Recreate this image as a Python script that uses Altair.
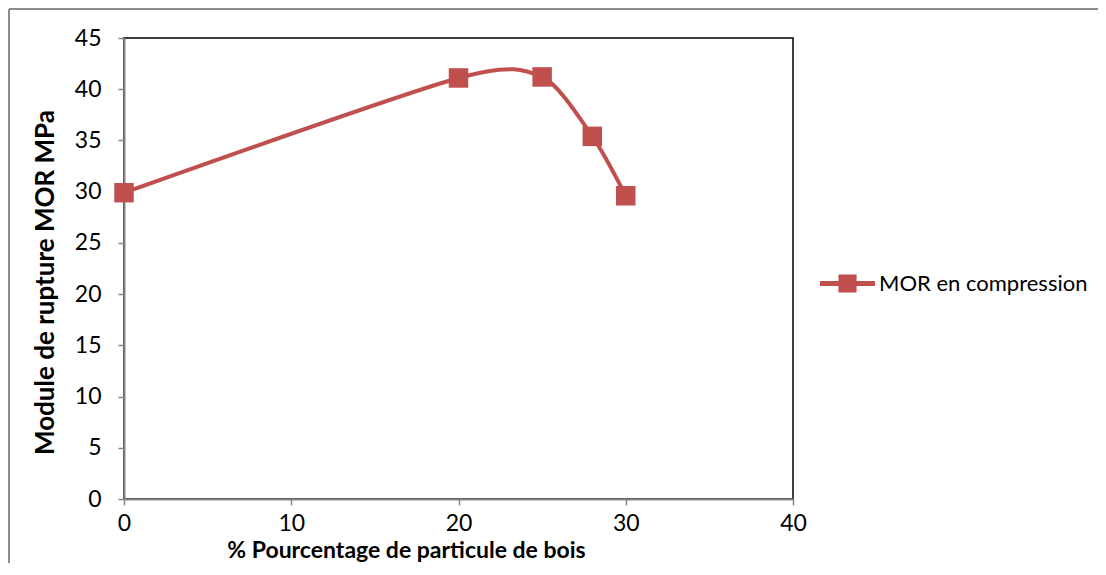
import altair as alt
import pandas as pd

# Data
pourcentage = [0, 20, 25, 28, 30]
mor = [29.9, 41.1, 41.2, 35.4, 29.6]
series_name = ["MOR en compression"] * len(pourcentage)

x_ticks = [0, 10, 20, 30, 40]
y_ticks = [0, 5, 10, 15, 20, 25, 30, 35, 40, 45]

df = pd.DataFrame({"pct": pourcentage, "mor": mor, "serie": series_name})

RED = "#C0504D"
GREY = "#868686"
FONT = "Lato"

x_enc = alt.X(
    "pct:Q",
    scale=alt.Scale(domain=[0, 40], nice=False, zero=False),
    axis=alt.Axis(
        values=x_ticks,
        title="% Pourcentage de particule de bois",
        titleFont=FONT, titleFontSize=23, titleFontWeight="bold", titleColor="black",
        titleX=282, titleY=51, titleAnchor="middle", titleBaseline="middle",
        labelFont=FONT, labelFontSize=23, labelColor="black", labelPadding=7,
        domainColor=GREY, domainWidth=2, tickColor=GREY, tickWidth=1.5, tickSize=6,
        grid=False, labelFlush=False,
    ),
)
y_enc = alt.Y(
    "mor:Q",
    scale=alt.Scale(domain=[0, 45], nice=False, zero=False),
    axis=alt.Axis(
        values=y_ticks,
        title="Module de rupture MOR MPa",
        titleFont=FONT, titleFontSize=26, titleFontWeight="bold", titleColor="black",
        titleX=-79, titleY=244, titleAnchor="middle", titleAngle=270, titleBaseline="middle",
        labelFont=FONT, labelFontSize=23, labelColor="black", labelPadding=17,
        domainColor=GREY, domainWidth=2, tickColor=GREY, tickWidth=1.5, tickSize=6,
        grid=False, labelFlush=False,
    ),
)

line = alt.Chart(df).mark_line(
    color=RED, strokeWidth=4, interpolate="cardinal", tension=0.25
).encode(x=x_enc, y=y_enc)

legend_path = "M-1,-0.09H1V0.09H-1Z M-0.33,-0.33H0.33V0.33H-0.33Z"

points = alt.Chart(df).mark_point(
    shape="square", filled=True, size=380, opacity=1, strokeWidth=0
).encode(
    x="pct:Q",
    y="mor:Q",
    color=alt.Color(
        "serie:N",
        scale=alt.Scale(range=[RED]),
        legend=alt.Legend(
            title=None, orient="none", legendX=696, legendY=218,
            symbolType=legend_path, symbolSize=3025,
            symbolFillColor=RED, symbolStrokeWidth=0, symbolOpacity=1,
            labelFont=FONT, labelFontSize=22, labelColor="black", labelOffset=4,
            labelLimit=400,
        ),
    ),
)

frame_left = alt.Chart(df).mark_rule(color="#8c8c8c", strokeWidth=2).encode(
    x=alt.value(-115), y=alt.value(-29), y2=alt.value(700)
)
frame_top = alt.Chart(df).mark_rule(color="#8c8c8c", strokeWidth=2).encode(
    x=alt.value(-115), x2=alt.value(1200), y=alt.value(-29)
)

chart = alt.layer(frame_left, frame_top, line, points).properties(
    width=669,
    height=461,
    autosize=alt.AutoSizeParams(type="none"),
    padding={"left": 116, "top": 30, "right": 305, "bottom": 64},
).configure_view(stroke="black", strokeWidth=1.5)

chart.save("out.html", embed_options={"renderer": "svg", "actions": False})
